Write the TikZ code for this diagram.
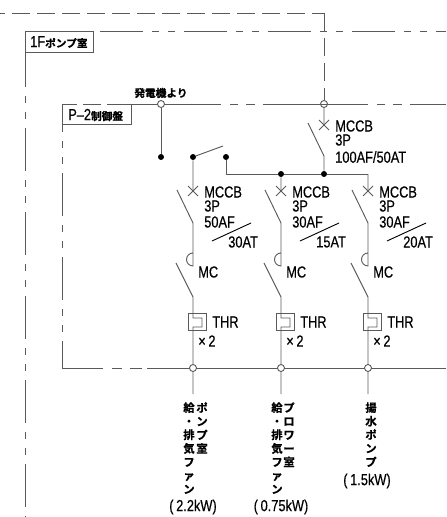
\documentclass[tikz,border=0pt]{standalone}
\usepackage{fontspec}
\setmainfont[FakeStretch=0.8,FakeBold=0.4]{Liberation Sans}
\newfontfamily\jpfont[FakeBold=0.8]{Noto Sans CJK JP Bold}
\usetikzlibrary{positioning}
\definecolor{wire}{HTML}{5A5A5A}
\tikzset{
  wireline/.style={draw=wire, line width=0.7pt},
  roomline/.style={wireline, dash pattern=on 32.25pt off 6.75pt on 5.25pt off 6.75pt on 5.25pt off 6.75pt},
  panelline/.style={wireline, dash pattern=on 78.75pt off 6.75pt on 6pt off 6pt on 6.75pt off 6pt},
  floorline/.style={wireline, dash pattern=on 31pt off 6.75pt on 7.5pt off 6pt on 9pt off 3.75pt on 300pt off 1pt},
  outerline/.style={wireline, dash pattern=on 13.5pt off 5.25pt},
  boxtop/.style={wireline, dash pattern=on 11pt off 5pt on 13pt off 5pt on 30pt off 1pt},
  bullet/.style={circle, fill=black, inner sep=0pt, minimum size=4.5pt},
  junction/.style={circle, draw=wire, fill=white, line width=0.7pt, inner sep=0pt, minimum size=5.25pt},
  eqlabel/.style={anchor=west, inner sep=0pt, text=black, font=\fontsize{12}{12}\selectfont},
  jplabel/.style={inner sep=0pt, text=black, font=\fontsize{8}{8}\selectfont\jpfont},
  stacklabel/.style={jplabel, align=center, anchor=north, font=\fontsize{8.5}{10.2}\selectfont\jpfont},
}
\begin{document}
\begin{tikzpicture}[x=0.75pt, y=-0.75pt]
\useasboundingbox (0,0) rectangle (446,517);

% Wall lines
\coordinate (OL) at (0,13);
\coordinate (OR) at (324,13);
\draw[outerline, dash phase=9.4pt] (OL) -- (OR);
\node[junction] (MAIN) at (324,104) {};
\draw[outerline] (OR) -- (MAIN);

% Room
\node[draw=wire, line width=0.7pt, anchor=north west, minimum width=51pt, minimum height=15.75pt, inner sep=0pt] (ROOMBOX) at (25,31) {};
\node[eqlabel] (ROOMTXT) at (30,42) {1F{\jpfont\fontsize{8}{8}\selectfont ポンプ室}};
\coordinate (RT) at (100,31);
\coordinate (RTE) at (446,31);
\coordinate (RL) at (25,52);
\coordinate (RLE) at (25,517);
\draw[roomline] (RT) -- (RTE);
\draw[roomline, dash phase=6pt] (RL) -- (RLE);

% Panel
\coordinate (PA) at (62,104);
\coordinate (PB) at (131,104);
\coordinate (PD) at (131,124);
\coordinate (PL) at (62,124);
\draw[wireline] (PA) -- (PL) -- (PD) -- (PB);
\draw[boxtop] (PA) -- (PB);
\node[eqlabel] (PANELTXT) at (68,115) {P–2{\jpfont\fontsize{8}{8}\selectfont 制御盤}};
\coordinate (PTE) at (446,104);
\coordinate (PC) at (62,368);
\coordinate (PBE) at (446,368);
\draw[panelline, dash phase=11pt] (PB) -- (PTE);
\draw[roomline, dash phase=26.25pt] (PL) -- (PC);
\draw[floorline] (PC) -- (PBE);

% Generator feed
\node[junction] (GEN) at (161,104) {};
\node[bullet] (GENEND) at (161,157) {};
\node[jplabel] (GENTXT) at (161,93) {発電機より};
\draw[wireline] (GEN) -- (GENEND);

% Transfer switch
\node[bullet] (TA) at (193,157) {};
\node[bullet] (TB) at (226,157) {};
\coordinate (TEND) at (223,146);
\draw[wireline] (TA) -- (TEND);

% Main breaker
\coordinate (MX) at (324,125);
\coordinate (MT) at (308,123);
\coordinate (MB) at (324,156);
\node[bullet] (BUSM) at (324,174) {};
\node[bullet] (BUSL) at (281,174) {};
\coordinate (BUSR) at (368,174);
\coordinate (BUST) at (226,174);
\draw[wireline] (MAIN) -- (MX) (MT) -- (MB) -- (BUSM);
\draw[wireline] (319,120) -- (329,130) (319,130) -- (329,120);
\draw[wireline] (TB) -- (BUST) -- (BUSL) -- (BUSM) -- (BUSR);
\node[eqlabel] (MTXT) at (335,126) {MCCB};
\node[eqlabel] at (335,140) {3P};
\node[eqlabel] at (335,157) {100AF/50AT};

% Branches
\foreach \nm/\px/\at/\tp in {A/193/30AT/TA, B/281/15AT/BUSL, C/368/20AT/BUSR}{
  \node[junction] (J\nm) at (\px,368) {};
  \coordinate (END\nm) at (\px,394);
  \draw[wireline] (\tp) -- (\px,191) (\px-16,190) -- (\px,223) -- (\px,266)
    arc[start angle=90, end angle=270, radius=6.5];
  \draw[wireline] (\px-5,186) -- (\px+5,196) (\px-5,196) -- (\px+5,186);
  \draw[wireline] (\px-17,263) -- (\px,297) -- (\px,318) -- (\px+9,318) -- (\px+9,327) -- (\px,327) -- (J\nm) (J\nm) -- (END\nm);
  \draw[wireline] (\px-5,313) rectangle (\px+13,330);
  \draw[line width=0.7pt, black] (\px+19,241) -- (\px+58,223);
  \node[eqlabel] at (\px+11,192) {MCCB};
  \node[eqlabel] at (\px+11,206) {3P};
  \node[eqlabel] at (\px+11,222) {\ifnum\px=193 50AF\else 30AF\fi};
  \node[eqlabel] at (\px+35,242) {\at};
  \node[eqlabel] at (\px+5,272) {MC};
  \node[eqlabel] at (\px+19,322) {THR};
  \node[eqlabel] at (\px+5,341) {×\,2};
}

% Load names
\node[stacklabel] (LA1) at (189,402) {給\\・\\排\\気\\フ\\ァ\\ン};
\node[stacklabel] (LA2) at (202,402) {ポ\\ン\\プ\\室};
\node[eqlabel, anchor=center] (LA3) at (193,507) {(\,2.2kW)};
\node[stacklabel] (LB1) at (277,402) {給\\・\\排\\気\\フ\\ァ\\ン};
\node[stacklabel] (LB2) at (289,402) {プ\\ロ\\ワ\\ー\\室};
\node[eqlabel, anchor=center] (LB3) at (281,507) {(\,0.75kW)};
\node[stacklabel] (LC1) at (371,402) {揚\\水\\ポ\\ン\\プ};
\node[eqlabel, anchor=center] (LC2) at (367,481) {(\,1.5kW)};
\end{tikzpicture}
\end{document}
